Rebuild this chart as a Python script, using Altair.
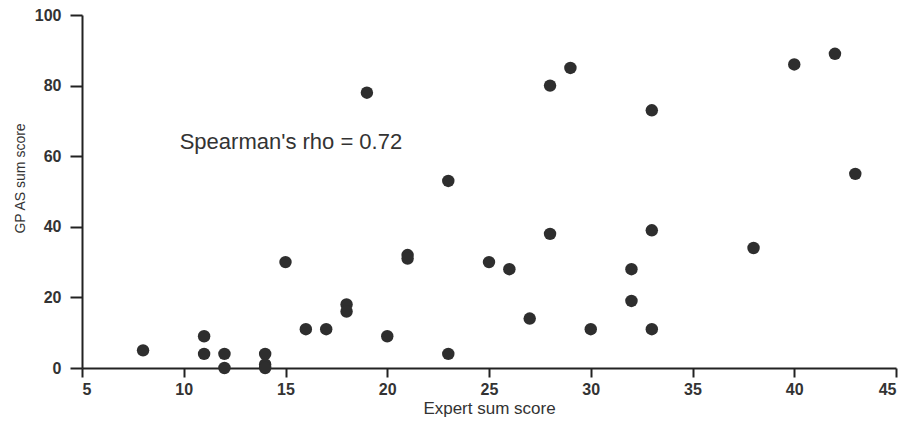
import altair as alt
import pandas as pd

expert = [8, 11, 11, 12, 12, 14, 14, 14, 15, 16, 17, 18, 18, 19, 20, 21, 21, 23, 23,
          25, 26, 27, 28, 28, 29, 30, 32, 32, 33, 33, 33, 38, 40, 42, 43]
gpas = [5, 9, 4, 4, 0, 4, 1, 0, 30, 11, 11, 18, 16, 78, 9, 32, 31, 53, 4,
        30, 28, 14, 80, 38, 85, 11, 28, 19, 73, 39, 11, 34, 86, 89, 55]

ann_x = [9.8]
ann_y = [64]
ann_text = ["Spearman's rho = 0.72"]

df = pd.DataFrame({"x": expert, "y": gpas})
ann = pd.DataFrame({"x": ann_x, "y": ann_y, "t": ann_text})

xs = alt.Scale(domain=[5, 45], nice=False, zero=False)
ys = alt.Scale(domain=[0, 100], nice=False)

common = dict(grid=False, domainColor="#222", tickColor="#222",
              domainWidth=2, tickWidth=2,
              labelFontSize=16, labelColor="#333", labelFontWeight="bold",
              labelFont="Liberation Sans", titleFont="Liberation Sans",
              titleColor="#333", titleFontWeight="normal")

pts = alt.Chart(df).mark_circle(size=155, color="#2e2e2e", opacity=1).encode(
    x=alt.X("x:Q", scale=xs, title="Expert sum score",
            axis=alt.Axis(values=[5, 10, 15, 20, 25, 30, 35, 40, 45], tickSize=9,
                          labelPadding=4, titlePadding=3, titleFontSize=17, **common)),
    y=alt.Y("y:Q", scale=ys, title="GP AS sum score",
            axis=alt.Axis(values=[0, 20, 40, 60, 80, 100], tickSize=12,
                          labelPadding=9, titleX=-55, titleY=163, titleFontSize=14,
                          **common)),
)

txt = alt.Chart(ann).mark_text(align="left", baseline="middle", fontSize=22,
                               color="#333", font="Liberation Sans").encode(
    x=alt.X("x:Q", scale=xs), y=alt.Y("y:Q", scale=ys), text="t:N")

chart = (pts + txt).properties(
    width=814, height=353,
    autosize=alt.AutoSizeParams(type="none"),
    padding={"left": 74, "top": 7, "right": 2, "bottom": 62},
).configure(background="white").configure_view(stroke="transparent", strokeWidth=0)

chart.save("out.html", embed_options={"renderer": "svg", "actions": False})
